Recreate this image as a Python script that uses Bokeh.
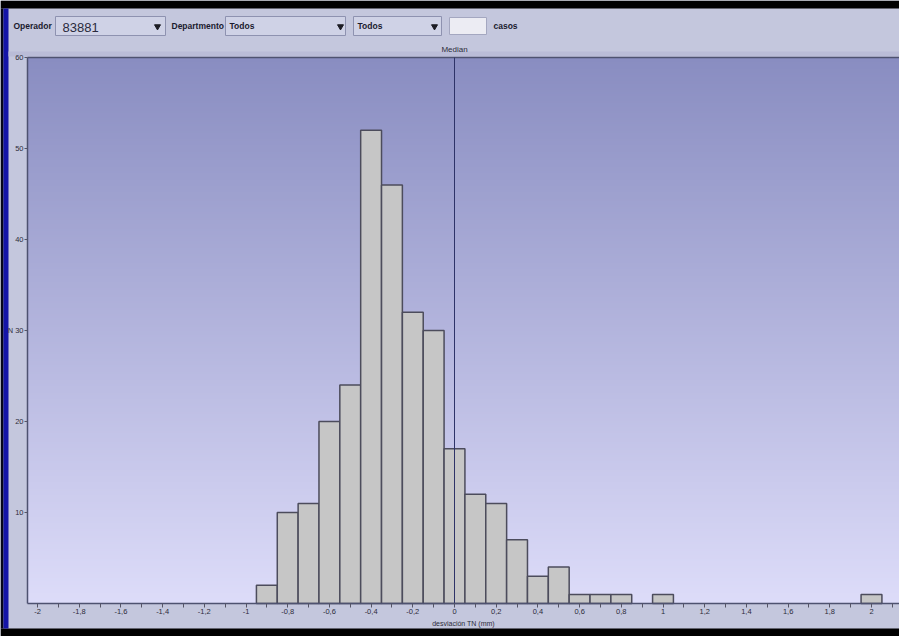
import numpy as np
from bokeh.plotting import figure
from bokeh.models import Range1d, FixedTicker, ColumnDataSource, LinearAxis
from bokeh.embed import file_html
from bokeh.resources import INLINE
from bokeh.core.properties import value

# ---------------- data ----------------
bin_centers = [-0.9, -0.8, -0.7, -0.6, -0.5, -0.4, -0.3, -0.2, -0.1, 0.0,
               0.1, 0.2, 0.3, 0.4, 0.5, 0.6, 0.7, 0.8, 0.9, 1.0,
               1.1, 1.2, 1.3, 1.4, 1.5, 1.6, 1.7, 1.8, 1.9, 2.0]
counts = [2, 10, 11, 20, 24, 52, 46, 32, 30, 17,
          12, 11, 7, 3, 4, 1, 1, 1, 0, 1,
          0, 0, 0, 0, 0, 0, 0, 0, 0, 1]
bin_width = 0.1
median_value = 0.0
median_label = "Median"

y_ticks = [10, 20, 30, 40, 50, 60]
x_ticks = [-2.0, -1.8, -1.6, -1.4, -1.2, -1.0, -0.8, -0.6, -0.4, -0.2, 0.0,
           0.2, 0.4, 0.6, 0.8, 1.0, 1.2, 1.4, 1.6, 1.8, 2.0]
x_tick_labels = ["-2", "-1,8", "-1,6", "-1,4", "-1,2", "-1", "-0,8", "-0,6", "-0,4", "-0,2", "0",
                 "0,2", "0,4", "0,6", "0,8", "1", "1,2", "1,4", "1,6", "1,8", "2"]
x_minor_ticks = [-1.9, -1.7, -1.5, -1.3, -1.1, -0.9, -0.7, -0.5, -0.3, -0.1,
                 0.1, 0.3, 0.5, 0.7, 0.9, 1.1, 1.3, 1.5, 1.7, 1.9, 2.1]
x_title = "desviación TN (mm)"
y_title = "N"

operador_label = "Operador"
operador_value = "83881"
departamento_label = "Departmento"
departamento_value = "Todos"
second_value = "Todos"
casos_label = "casos"

# ---------------- styles / geometry (pixels of the window) ----------------
PANEL = "#c4c7dd"
FONT = "Liberation Sans"
TXT = "#2c2c3a"
AXIS = "#4e5270"
W, H = 899, 636
FRAME_L, FRAME_T, FRAME_B = 27, 57, 603
PX_X = 208.5          # pixels per x unit
PX_Y = (FRAME_B - FRAME_T) / 60.0
ZERO_PX = 454

X0 = (FRAME_L - ZERO_PX) / PX_X          # left edge of plot area
XL = (0 - ZERO_PX) / PX_X                # canvas left
XR = (W - ZERO_PX) / PX_X                # canvas right
Y0, Y1 = 0, 60
YB = -(H - FRAME_B) / PX_Y               # canvas bottom
YT = Y1 + FRAME_T / PX_Y                 # canvas top

p = figure(width=W, height=H, x_range=Range1d(XL, XR), y_range=Range1d(YB, YT),
           toolbar_location=None, output_backend="svg", min_border=0,
           x_axis_location=None, y_axis_location=None)
p.min_border_left = p.min_border_right = p.min_border_top = p.min_border_bottom = 0
p.grid.visible = False
p.outline_line_color = None
p.background_fill_color = PANEL
p.border_fill_color = PANEL
p.extra_x_ranges = {"px": Range1d(0, W)}
p.extra_y_ranges = {"px": Range1d(H, 0)}
PX = dict(x_range_name="px", y_range_name="px")

# gradient plot background
n = 256
t = np.linspace(0.0, 1.0, n)[:, None]
c_bot = np.array([0xdd, 0xdc, 0xf9], dtype=float)
c_top = np.array([0x89, 0x8d, 0xc1], dtype=float)
img = np.empty((n, 1), dtype=np.uint32)
view = img.view(dtype=np.uint8).reshape((n, 1, 4))
for k in range(3):
    view[:, :, k] = np.round(c_bot[k] + (c_top[k] - c_bot[k]) * t).astype(np.uint8)
view[:, :, 3] = 255
p.image_rgba(image=[img], x=X0, y=Y0, dw=XR - X0, dh=Y1 - Y0, level="image")

# window chrome: black bands + blue left strip + darker band above plot
p.quad(left=[0, 0, 0, 3, 8], right=[W, W, 3, 8, W], top=[0, 628, 8, 8, 51],
       bottom=[8, H, 628, 628, FRAME_T - 1],
       fill_color=["black", "black", "#05051a", "#1414a8", "#babcd7"], line_color=None, **PX)

# toolbar widgets
combo = ColumnDataSource(dict(left=[55, 225, 353], right=[165, 345, 441],
                              top=[16, 16, 16], bottom=[35, 35, 35]))
p.quad(left="left", right="right", top="top", bottom="bottom", source=combo,
       fill_color="#cfd2e6", line_color="#8e92b0", line_width=1, **PX)
p.quad(left=[449], right=[486], top=[17], bottom=[34],
       fill_color="#ececf3", line_color="#a4a7c0", line_width=1, **PX)
p.scatter(x=[157, 340, 434], y=[26, 26, 26], marker="inverted_triangle",
          size=6, color="#1c1c24", **PX)
p.text(x=[13, 171, 229, 357, 493], y=[25.5] * 5,
       text=[operador_label, departamento_label, departamento_value, second_value, casos_label],
       text_font=value(FONT), text_font_style="bold", text_font_size="8.5px",
       text_baseline="middle", text_color="#1a1a2e", **PX)
p.text(x=[62], y=[27], text=[operador_value], text_font=value(FONT),
       text_font_size="13px", text_baseline="middle", text_color="#2a2a3c", **PX)

# bars (non-empty bins only)
bc = np.array(bin_centers)
cn = np.array(counts)
mask = cn > 0
src = ColumnDataSource(dict(left=bc[mask] - bin_width / 2, right=bc[mask] + bin_width / 2,
                            top=cn[mask], bottom=np.zeros(mask.sum())))
p.quad(left="left", right="right", top="top", bottom="bottom", source=src,
       fill_color="#c6c6c6", line_color="#4c4c5c", line_width=1.5)

# top edge of the plot area and median line
p.segment(x0=[X0], y0=[Y1], x1=[XR], y1=[Y1], line_color=AXIS, line_width=1.5)
p.segment(x0=[median_value], y0=[Y0], x1=[median_value], y1=[Y1], line_color="#2e3368", line_width=1)
p.text(x=[median_value], y=[Y1], y_offset=-8, text=[median_label], text_font=value(FONT),
       text_font_size="8px", text_align="center", text_baseline="middle", text_color=TXT)

# axes (fixed inside the full-canvas frame)
xa = LinearAxis(fixed_location=Y0, bounds=(X0, XR))
xa.ticker = FixedTicker(ticks=x_ticks, minor_ticks=x_minor_ticks)
xa.major_label_overrides = {tk: lb for tk, lb in zip(x_ticks, x_tick_labels)}
xa.major_tick_in = 0
xa.major_tick_out = 4
xa.minor_tick_in = 0
xa.minor_tick_out = 4
xa.major_tick_line_color = "#555566"
xa.minor_tick_line_color = "#555566"
xa.axis_line_color = AXIS
xa.axis_line_width = 1.5
xa.major_label_standoff = 1
xa.major_label_text_font = FONT
xa.major_label_text_font_size = "7.5px"
xa.major_label_text_color = TXT
p.add_layout(xa, "below")

ya = LinearAxis(fixed_location=X0, bounds=(Y0, Y1))
ya.ticker = FixedTicker(ticks=y_ticks, minor_ticks=[])
ya.major_tick_in = 0
ya.major_tick_out = 3
ya.major_tick_line_color = "#555566"
ya.axis_line_color = AXIS
ya.axis_line_width = 1.5
ya.major_label_standoff = 1
ya.major_label_text_font = FONT
ya.major_label_text_font_size = "7.5px"
ya.major_label_text_color = TXT
p.add_layout(ya, "left")

# axis titles
p.text(x=[(X0 + XR) / 2], y=[Y0], y_offset=20, text=[x_title], text_font=value(FONT),
       text_font_size="7px", text_align="center", text_baseline="middle", text_color=TXT)
p.text(x=[X0], y=[(Y0 + Y1) / 2], x_offset=-17, text=[y_title], text_font=value(FONT),
       text_font_size="7px", text_align="center", text_baseline="middle", text_color=TXT)

open("out.html", "w").write(file_html(p, INLINE))
